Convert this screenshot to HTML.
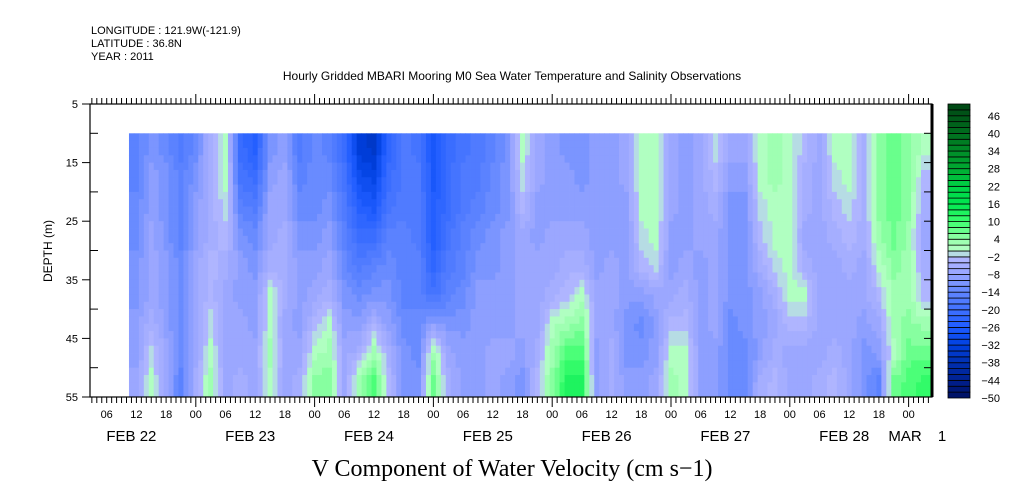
<!DOCTYPE html>
<html><head><meta charset="utf-8"><style>
html,body{margin:0;padding:0;background:#fff;}
svg{display:block;font-family:"Liberation Sans",sans-serif;}
</style></head><body>
<svg id="chart" width="1009" height="504" viewBox="0 0 1009 504">
<g font-size="11" fill="#000">
<text x="91" y="34">LONGITUDE : 121.9W(-121.9)</text>
<text x="91" y="47">LATITUDE : 36.8N</text>
<text x="91" y="60">YEAR : 2011</text>
<text x="512" y="80" text-anchor="middle" font-size="12">Hourly Gridded MBARI Mooring M0 Sea Water Temperature and Salinity Observations</text>
</g>
<g id="cells"></g>
<g id="axes"></g>
<g id="cbar"></g>
<text x="512" y="476" text-anchor="middle" font-size="24" font-family="Liberation Serif, serif">V Component of Water Velocity (cm s−1)</text>
<text x="52" y="251" text-anchor="middle" font-size="12" transform="rotate(-90 52 251)">DEPTH (m)</text>
</svg>
<script>
const startHour = 10.5;
const stepHours = 3;
const depthEdges = [10,15,20,25,30,35,40,45,50,55];
const yTicks = [5,15,25,35,45,55];
const cbarLabels = [46,40,34,28,22,16,10,4,-2,-8,-14,-20,-26,-32,-38,-44,-50];
const dayNames = ["FEB 22","FEB 23","FEB 24","FEB 25","FEB 26","FEB 27","FEB 28"];
const hourLabels = ["00","06","12","18"];
const values = [
[-14,-14,-12,-12,-10,-10,-8,-8,-6],
[-10,-8,-8,-6,-6,-6,-4,0,2],
[-12,-10,-10,-10,-8,-8,-8,-6,-6],
[-16,-14,-14,-14,-12,-12,-12,-12,-14],
[-12,-10,-8,-8,-6,-6,-6,-6,-4],
[-4,-4,-4,-4,-2,-2,0,2,4],
[2,2,0,-2,-4,-6,-6,-6,-6],
[-20,-18,-14,-10,-8,-8,-6,-6,-4],
[-24,-20,-16,-12,-10,-8,-8,-6,-6],
[-10,-8,-6,-6,-4,2,2,4,2],
[-8,-6,-6,-4,-4,-4,-6,-6,-6],
[-16,-14,-12,-10,-8,-8,-8,-6,-4],
[-12,-12,-12,-10,-8,-6,-2,2,6],
[-14,-12,-10,-8,-6,-4,2,4,6],
[-20,-18,-16,-14,-12,-10,-8,-6,-6],
[-32,-28,-24,-20,-16,-12,-8,-4,4],
[-34,-30,-26,-20,-14,-10,-4,4,10],
[-22,-20,-18,-14,-12,-10,-8,-4,-2],
[-16,-16,-16,-14,-14,-14,-12,-10,-10],
[-18,-16,-16,-16,-14,-14,-12,-12,-10],
[-26,-26,-24,-24,-22,-18,-8,4,8],
[-20,-20,-20,-18,-16,-14,-10,-6,-4],
[-18,-16,-16,-14,-14,-12,-10,-8,-8],
[-16,-16,-14,-12,-10,-8,-8,-8,-8],
[-14,-12,-12,-10,-10,-8,-8,-6,-6],
[-10,-10,-10,-8,-8,-8,-8,-6,-8],
[2,0,-2,-6,-6,-6,-6,-8,-10],
[-6,-6,-8,-8,-6,-6,-6,-4,-2],
[-8,-8,-8,-6,-6,-4,2,4,6],
[-10,-8,-8,-6,-4,-2,4,10,14],
[-10,-10,-8,-6,-4,2,6,10,14],
[-8,-8,-8,-8,-8,-6,-6,-8,-8],
[-8,-8,-8,-8,-6,-6,-6,-4,-4],
[-6,-6,-8,-8,-8,-8,-10,-10,-8],
[2,2,2,0,-2,-8,-12,-10,-8],
[2,2,2,2,0,-6,-8,-8,-6],
[-6,-6,-6,-8,-8,-6,-2,2,4],
[-8,-8,-8,-8,-6,-4,-2,2,2],
[-6,-6,-6,-6,-8,-8,-8,-8,-8],
[0,-2,-4,-6,-6,-6,-6,-8,-8],
[-6,-8,-10,-10,-10,-10,-12,-12,-12],
[-6,-8,-10,-10,-10,-10,-10,-12,-12],
[2,2,0,-2,-4,-8,-8,-8,-4],
[4,4,2,2,0,-4,-6,-4,-2],
[2,2,2,2,2,2,-2,-6,-6],
[-2,-4,-4,-6,-4,2,-2,-6,-6],
[-6,-6,-6,-6,-6,-6,-6,-6,-4],
[2,0,-2,-4,-6,-6,-6,-4,-2],
[2,2,0,-2,-4,-6,-6,-6,-6],
[-4,-4,-4,-4,-6,-6,-8,-10,-10],
[6,6,6,4,2,-2,-6,-8,-14],
[8,8,8,8,6,4,4,2,8],
[6,6,6,4,4,4,6,8,10],
[2,-2,-4,-6,-4,-2,4,8,12]
];
const NS="http://www.w3.org/2000/svg";
const X0=90, X1=932, Y0=104, Y1=397;
const xOf = h => 77 + h*118.8/24;
const yOf = d => Y0 + (d-5)*(Y1-Y0)/50;
const anchors=[[-50,[0,16,96]],[-44,[0,32,144]],[-38,[0,48,176]],[-32,[0,64,224]],[-26,[30,92,255]],[-20,[64,112,255]],[-14,[96,134,255]],[-8,[150,164,255]],[-2,[180,184,255]],[0,[184,255,200]],[4,[150,255,170]],[10,[60,255,110]],[16,[0,230,80]],[22,[0,210,70]],[28,[0,170,50]],[34,[0,140,40]],[40,[0,110,30]],[50,[0,70,20]]];
function color(v){
  if(v<=anchors[0][0])return `rgb(${anchors[0][1]})`;
  for(let i=1;i<anchors.length;i++){if(v<=anchors[i][0]){const a=anchors[i-1],b=anchors[i];const t=(v-a[0])/(b[0]-a[0]);return `rgb(${a[1].map((c,k)=>Math.round(c+(b[1][k]-c)*t)).join(',')})`;}}
  return `rgb(${anchors[anchors.length-1][1]})`;
}
function el(tag,attrs,parent){const e=document.createElementNS(NS,tag);for(const k in attrs)e.setAttribute(k,attrs[k]);parent.appendChild(e);return e;}
function sample(fi,fj){
  const nI=values.length,nJ=values[0].length;
  fi=Math.max(0,Math.min(nI-1,fi)); fj=Math.max(0,Math.min(nJ-1,fj));
  const i0=Math.floor(fi),j0=Math.floor(fj),i1=Math.min(nI-1,i0+1),j1=Math.min(nJ-1,j0+1);
  const a=fi-i0,b=fj-j0;
  return (values[i0][j0]*(1-a)+values[i1][j0]*a)*(1-b)+(values[i0][j1]*(1-a)+values[i1][j1]*a)*b;
}
const cells=document.getElementById('cells');
const SUBX=3, SUBY=4;
values.forEach((col,i)=>{
  col.forEach((v,j)=>{
    for(let sx=0;sx<SUBX;sx++){
      const h0=startHour+(i+sx/SUBX)*stepHours, h1=startHour+(i+(sx+1)/SUBX)*stepHours;
      const xa=xOf(h0), xb=Math.min(X1,xOf(h1));
      if(xa>=X1)continue;
      for(let sy=0;sy<SUBY;sy++){
        const d0=depthEdges[j]+(depthEdges[j+1]-depthEdges[j])*sy/SUBY, d1=depthEdges[j]+(depthEdges[j+1]-depthEdges[j])*(sy+1)/SUBY;
        const ya=yOf(d0), yb=yOf(d1);
        const val=sample(i+(sx+0.5)/SUBX-0.5, j+(sy+0.5)/SUBY-0.5);
        const r=el('rect',{x:xa.toFixed(2),y:ya.toFixed(2),width:(xb-xa+0.4).toFixed(2),height:(yb-ya+0.4).toFixed(2),fill:color(Math.round(val/2)*2-1)},cells);
        
        
      }
    }
  });
});
const ax=document.getElementById('axes');
const frame=el('rect',{x:X0,y:Y0,width:X1-X0,height:Y1-Y0,fill:'none',stroke:'#000','stroke-width':1.2},ax);


el('line',{x1:X1,y1:Y0,x2:X1,y2:Y1,stroke:'#000','stroke-width':3},ax);
for(let h=3;h<=172;h++){
  const x=xOf(h); if(x<X0||x>X1)continue;
  const major=h%24===0;
  el('line',{x1:x,y1:Y1,x2:x,y2:Y1+(major?10:6),stroke:'#000','stroke-width':1},ax);
  el('line',{x1:x,y1:Y0,x2:x,y2:Y0-(major?10:6),stroke:'#000','stroke-width':1},ax);
  if(h%6===0){
    const t=el('text',{x:x,y:418,'text-anchor':'middle','font-size':11},ax);
    t.textContent=hourLabels[(h%24)/6];
    
    
  }
}
dayNames.forEach((d,i)=>{
  const t=el('text',{x:xOf(i*24+12)-5,y:441,'text-anchor':'middle','font-size':15},ax);
  t.textContent=d;
  
  
});
const m1=el('text',{x:905,y:441,'text-anchor':'middle','font-size':15},ax);m1.textContent='MAR';


const m2=el('text',{x:942,y:441,'text-anchor':'middle','font-size':15},ax);m2.textContent='1';


for(let d=5;d<=55;d+=5){
  const y=yOf(d); const major=yTicks.includes(d);
  el('line',{x1:X0-(major?8:0),y1:y,x2:X0+(major?0:8),y2:y,stroke:'#000'},ax);
  el('line',{x1:X1-8,y1:y,x2:X1,y2:y,stroke:'#000'},ax);
  if(major){
    const t=el('text',{x:78,y:y+4,'text-anchor':'end','font-size':11},ax);
    t.textContent=d;
    
    
  }
}
const cb=document.getElementById('cbar');
const CB0=104,CB1=398;
const unit=(CB1-CB0)/100;
for(let v=-50;v<50;v+=2){
  const y=CB1-(v+50+2)*unit;
  const r=el('rect',{x:948,y:y.toFixed(2),width:22,height:(2*unit).toFixed(2),fill:color(v+1),stroke:'#000','stroke-width':0.8},cb);
  
  
}
cbarLabels.forEach(v=>{
  const y=CB1-(v+50)*unit;
  const t=el('text',{x:1000,y:y+4,'text-anchor':'end','font-size':11},cb);
  t.textContent=v<0?('−'+(-v)):String(v);
  
  
});
</script>
</body></html>
